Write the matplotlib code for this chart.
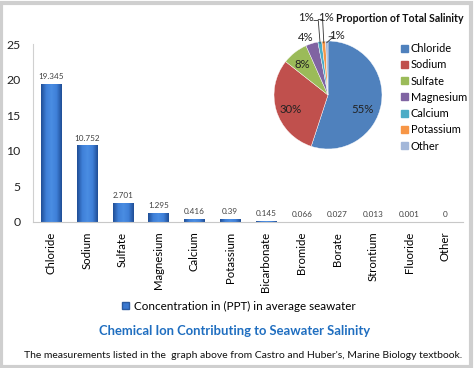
import matplotlib.pyplot as plt
import matplotlib.patches as mpatches
from matplotlib.colors import LinearSegmentedColormap
import numpy as np

plt.rcParams['font.family'] = ['Lato', 'DejaVu Sans']

# bar chart data
ions = ['Chloride', 'Sodium', 'Sulfate', 'Magnesium', 'Calcium', 'Potassium',
        'Bicarbonate', 'Bromide', 'Borate', 'Strontium', 'Fluoride', 'Other']
conc = [19.345, 10.752, 2.701, 1.295, 0.416, 0.39,
        0.145, 0.066, 0.027, 0.013, 0.001, 0]
conc_labels = ['19.345', '10.752', '2.701', '1.295', '0.416', '0.39',
               '0.145', '0.066', '0.027', '0.013', '0.001', '0']

# pie data
pie_names = ['Chloride', 'Sodium', 'Sulfate', 'Magnesium', 'Calcium', 'Potassium', 'Other']
pie_values = [19.345, 10.752, 2.701, 1.295, 0.416, 0.39, 0.252]
pie_pct = ['55%', '30%', '8%', '4%', '1%', '1%', '1%']
pie_colors = ['#4F81BD', '#C0504D', '#9BBB59', '#8064A2', '#4BACC6', '#F79646', '#A3B7D9']

W, H = 474, 368
fig = plt.figure(figsize=(W/100, H/100), dpi=100)
fig.patch.set_facecolor('white')

# outer grey frame
fig.add_artist(mpatches.Rectangle((0.003, 0.004), 0.99, 0.988, transform=fig.transFigure,
                                  fill=False, edgecolor='#cfcfcf', linewidth=3))

ax = fig.add_axes([33/W, 1-222/H, 430/W, 178/H])
x = np.arange(len(ions))
bars = ax.bar(x, conc, width=0.56, color='#3A78D0', edgecolor='#2A5AA0', linewidth=0.5,
              label='Concentration in (PPT) in average seawater')

# horizontal shading on the bars, darker at the sides
shade = LinearSegmentedColormap.from_list('shade', ['#1F4E96', '#3F80D8', '#4A8DE2', '#3F80D8', '#1F4E96'])
grad = np.linspace(0, 1, 64).reshape(1, -1)
for b in bars:
    if b.get_height() <= 0:
        continue
    im = ax.imshow(grad, cmap=shade, aspect='auto', zorder=b.get_zorder() + 0.1,
                   extent=(b.get_x(), b.get_x() + b.get_width(), 0, b.get_height()))
    im.set_clip_path(b)
ax.set_aspect('auto')

for xi, v, lab in zip(x, conc, conc_labels):
    ax.text(xi, v + 0.55, lab, ha='center', va='bottom', fontsize=5.9, color='#404040')

ax.set_xlim(-0.5, len(ions) - 0.5)
ax.set_ylim(0, 25)
ax.set_yticks([0, 5, 10, 15, 20, 25])
ax.tick_params(axis='y', length=0, labelsize=8.8, pad=9, colors='#222222')
ax.set_xticks(x)
ax.set_xticklabels(ions, rotation=90, fontsize=8.2)
ax.tick_params(axis='x', length=0, pad=7)
for s in ['top', 'right']:
    ax.spines[s].set_visible(False)
ax.spines['left'].set_color('#d0d0d0')
ax.spines['bottom'].set_color('#c8c8c8')

fig.legend(handles=[mpatches.Patch(facecolor='#3A78D0', edgecolor='#2A5AA0',
                                   label='Concentration in (PPT) in average seawater')],
           loc='center', bbox_to_anchor=(239/W, 1-306/H), frameon=False,
           fontsize=8.4, handlelength=0.6, handleheight=0.6, handletextpad=0.4)

fig.text(235/W, 1-331/H, 'Chemical Ion Contributing to Seawater Salinity', ha='center', va='center',
         fontsize=9.4, fontweight='bold', color='#1F6EC0')
fig.text(243/W, 1-356/H, "The measurements listed in the  graph above from Castro and Huber's, Marine Biology textbook.",
         ha='center', va='center', fontsize=7.45, color='#111111')

# pie inset
R = 54
pax = fig.add_axes([(328-2*R)/W, 1-(95+2*R)/H, 4*R/W, 4*R/H])
wedges, _ = pax.pie(pie_values, colors=pie_colors, startangle=90, counterclock=False,
                    wedgeprops=dict(edgecolor='white', linewidth=0.3))
pax.set_xlim(-2, 2)
pax.set_ylim(-2, 2)
pax.set_aspect('equal')

label_pos = [(0.63, -0.26), (-0.70, -0.26), (-0.48, 0.56), (-0.41, 1.07),
             (-0.41, 1.44), (-0.04, 1.44), (0.17, 1.11)]
for txt, pos in zip(pie_pct, label_pos):
    pax.text(pos[0], pos[1], txt, ha='center', va='center', fontsize=8.2, color='#222222')

# leader lines for the small slices
def edge_point(w):
    a = np.deg2rad((w.theta1 + w.theta2) / 2)
    return 0.97*np.cos(a), 0.97*np.sin(a)

for w, start in zip(wedges[4:], [(-0.26, 1.38), (-0.18, 1.40), (0.02, 1.08)]):
    ex, ey = edge_point(w)
    pax.plot([start[0], start[0] + 0.08, ex], [start[1], start[1], ey], color='#333333', lw=0.6)

fig.text(400/W, 1-19/H, 'Proportion of Total Salinity', ha='center', va='center',
         fontsize=7.6, fontweight='bold', color='#111111')

handles = [mpatches.Patch(color=c, label=n) for c, n in zip(pie_colors, pie_names)]
fig.legend(handles=handles, loc='upper left', bbox_to_anchor=(401/W, 1-43/H), frameon=False,
           fontsize=7.9, handlelength=0.6, handleheight=0.6, handletextpad=0.3,
           labelspacing=0.48, borderaxespad=0, borderpad=0)

fig.savefig('out.png', dpi=100)
